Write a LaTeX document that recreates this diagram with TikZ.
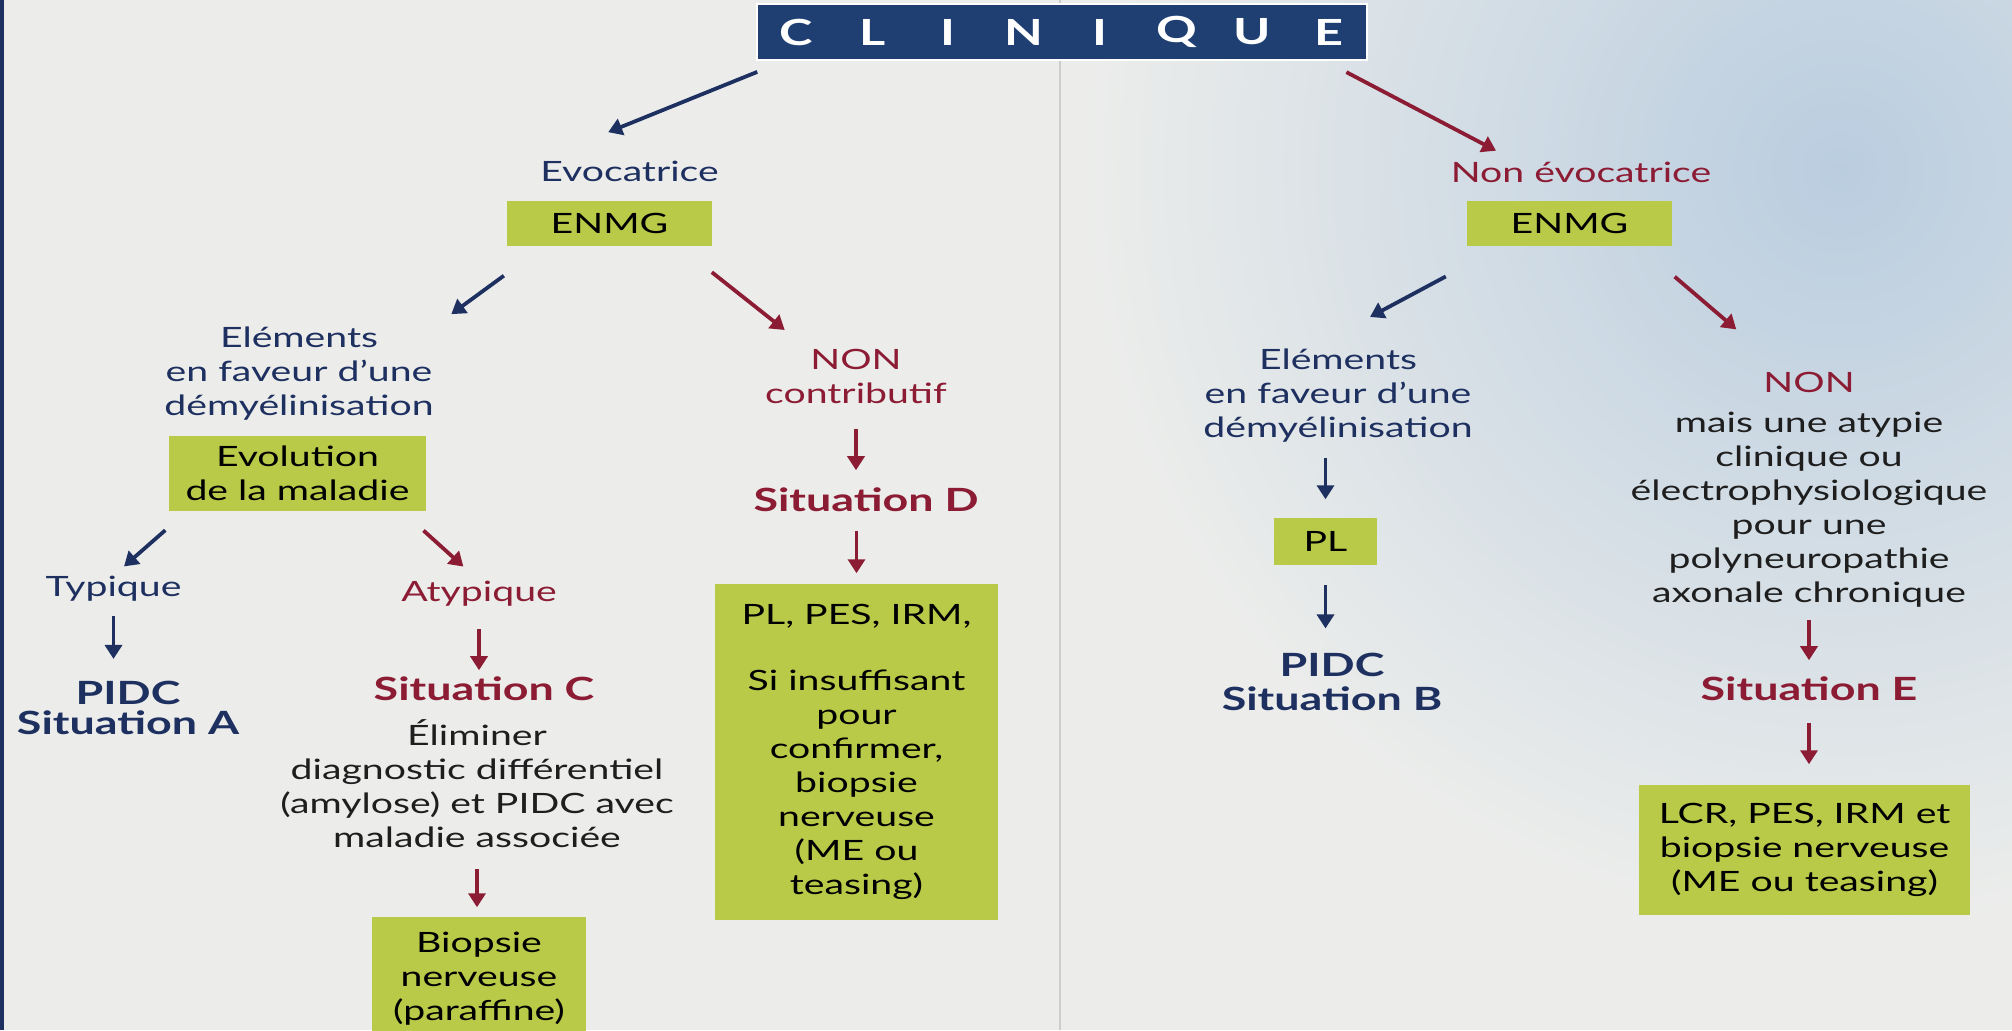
\documentclass[tikz,border=0pt]{standalone}
\usepackage{fontspec}
\setmainfont{Lato}[FakeStretch=1.4]
\usetikzlibrary{arrows.meta,calc}

\definecolor{paper}{RGB}{236,237,235}
\definecolor{mist}{RGB}{186,205,223}
\definecolor{inkblue}{RGB}{30,48,96}
\definecolor{inkred}{RGB}{140,28,52}
\definecolor{boxgreen}{RGB}{184,202,72}
\definecolor{bannerblue}{RGB}{31,62,114}
\definecolor{foldgrey}{RGB}{205,205,203}
\definecolor{inkdark}{RGB}{30,30,30}

\tikzset{every picture/.style={line width=0.75pt}}
\tikzset{
  txt/.style={inner sep=0pt, align=center, text=inkdark, font=\fontsize{14}{17}\selectfont},
  bluetxt/.style={txt, text=inkblue},
  redtxt/.style={txt, text=inkred},
  sit/.style={inner sep=0pt, align=center, font=\fontsize{16}{15}\selectfont\bfseries},
  greenbox/.style={txt, fill=boxgreen, text=black},
  bluearr/.style={draw=inkblue, line width=1.9pt, -{Triangle[length=7pt,width=8.5pt]}},
  redarr/.style={draw=inkred, line width=1.9pt, -{Triangle[length=7pt,width=8.5pt]}},
}

\begin{document}
\begin{tikzpicture}[x=0.5pt,y=0.5pt,yscale=-1,xscale=1]
\path[use as bounding box, clip] (0,0) rectangle (2012,1030);

%Shape: Rectangle (page)
\fill[paper] (0,0) rectangle (2012,1030);
\begin{scope}
\clip (1060,0) rectangle (2012,1030);
\shade[inner color=mist, outer color=paper] (1840,170) circle (760);
\end{scope}
%Straight Lines (fold and edge)
\draw[foldgrey, line width=1.2pt] (1060,0) -- (1060,1030);
\fill[inkblue] (0,0) rectangle (4,1030);

%Shape: Rectangle (banner)
\node[fill=bannerblue, draw=white, line width=1pt, inner sep=0pt, minimum width=305pt, minimum height=28pt] (clin) at (1062,32) {};
\foreach \ch [count=\i from 0] in {C,L,I,N,I,Q,U,E}
  \node[text=white, inner sep=0pt, font=\fontsize{18}{18}\selectfont\bfseries] (clin\i) at (796+76.1*\i,32) {\ch};

% Text Node
\node[bluetxt] (evoc) at (629.5,171) {Evocatrice};
\node[greenbox, minimum width=102.5pt, minimum height=22.5pt] (enmgL) at (609.5,223.5) {ENMG};
% Text Node
\node[redtxt] (nonevoc) at (1581,172) {Non évocatrice};
\node[greenbox, minimum width=102.5pt, minimum height=22.5pt] (enmgR) at (1569.5,223.5) {ENMG};

% Text Node
\node[bluetxt] (elemL) at (299,374) {Eléments\\en faveur d’une\\démyélinisation};
\node[greenbox, minimum width=128.5pt, minimum height=37.5pt] (evol) at (297.5,473.5) {Evolution\\de la maladie};
\node[bluetxt] (typ) at (113.5,589) {Typique};
\node[redtxt] (atyp) at (479,594) {Atypique};
\node[sit, text=inkblue] (sitA) at (128,707.5) {PIDC\\Situation A};
\node[sit, text=inkred] (sitC) at (484,689) {Situation C};
\node[txt] (elim) at (477,784) {Éliminer\\diagnostic différentiel\\(amylose) et PIDC avec\\maladie associée};
\node[greenbox, minimum width=107pt, minimum height=61.5pt] (biop) at (479,978.5) {Biopsie\\nerveuse\\(paraffine)};

% Text Node
\node[redtxt] (nonc) at (856,376) {NON\\contributif};
\node[sit, text=inkred] (sitD) at (866,500) {Situation D};
\node[greenbox, minimum width=141.5pt, minimum height=168pt] (boxD) at (856.5,752) {PL, PES, IRM,\\[16pt]Si insuffisant\\pour\\confirmer,\\biopsie\\nerveuse\\(ME ou\\teasing)};

% Text Node
\node[bluetxt] (elemR) at (1338,396) {Eléments\\en faveur d’une\\démyélinisation};
\node[greenbox, minimum width=51.5pt, minimum height=23.5pt] (plR) at (1325.5,541.5) {PL};
\node[sit, text=inkblue] (sitB) at (1332,682) {PIDC\\[2pt]Situation B};

% Text Node
\node[redtxt] (nonR) at (1809,382) {NON};
\node[txt] (atyR) at (1809,510) {mais une atypie\\clinique ou\\électrophysiologique\\pour une\\polyneuropathie\\axonale chronique};
\node[sit, text=inkred] (sitE) at (1809,689) {Situation E};
\node[greenbox, minimum width=165.5pt, minimum height=65pt] (boxE) at (1804.5,850) {LCR, PES, IRM et\\biopsie nerveuse\\(ME ou teasing)};

%Straight Lines
\draw[bluearr, shorten <=14.5pt, shorten >=37pt] ($(clin.south west)!0.046!(clin.south east)$) -- (evoc.north west);
\draw[redarr, shorten <=12pt, shorten >=11pt] ($(clin.south east)!0.07!(clin.south west)$) -- ($(nonevoc.north west)!0.25!(nonevoc.north east)$);
\draw[bluearr, shorten <=24.5pt, shorten >=10.5pt] ($(enmgL.south west)!0.18!(enmgL.south east)$) -- (elemL.north east);
\draw[redarr, shorten <=20.5pt, shorten >=14.5pt] ($(enmgL.south east)!0.16!(enmgL.south west)$) -- ($(nonc.north west)!0.235!(nonc.north east)$);
\draw[bluearr, shorten <=14pt, shorten >=7pt] ($(evol.south west)!0.07!(evol.south east)$) -- (typ.north);
\draw[redarr, shorten <=14pt, shorten >=10.5pt] ($(evol.south east)!0.093!(evol.south west)$) -- (atyp.north);
\draw[bluearr, shorten <=31.5pt, shorten >=33.5pt] ($(enmgR.south west)!0.17!(enmgR.south east)$) -- ($(elemR.north west)!0.4!(elemR.north east)$);
\draw[redarr, shorten <=23pt, shorten >=32pt] ($(enmgR.south east)!0.16!(enmgR.south west)$) -- ($(nonR.north west)!0.24!(nonR.north east)$);

%Straight Lines
\draw[redarr, shorten <=12.5pt, shorten >=8.5pt] (nonc.south) -- (nonc.south |- sitD.north);
\draw[redarr, shorten <=9pt, shorten >=5pt] (boxD.north |- sitD.south) -- (boxD.north);
\draw[bluearr, shorten <=7pt, shorten >=10.5pt] (typ.south) -- (typ.south |- sitA.north);
\draw[redarr, shorten <=11pt, shorten >=3pt] (atyp.south) -- (atyp.south |- sitC.north);
\draw[redarr, shorten <=10pt, shorten >=4.5pt] (elim.south) -- (elim.south |- biop.north);
\draw[bluearr, shorten <=7.5pt, shorten >=9pt] (plR.north |- elemR.south) -- (plR.north);
\draw[bluearr, shorten <=9.5pt, shorten >=12pt] (plR.south) -- (plR.south |- sitB.north);
\draw[redarr, shorten <=6pt, shorten >=8pt] (atyR.south) -- (sitE.north);
\draw[redarr, shorten <=10.5pt, shorten >=10pt] (sitE.south) -- (sitE.south |- boxE.north);

\end{tikzpicture}
\end{document}
